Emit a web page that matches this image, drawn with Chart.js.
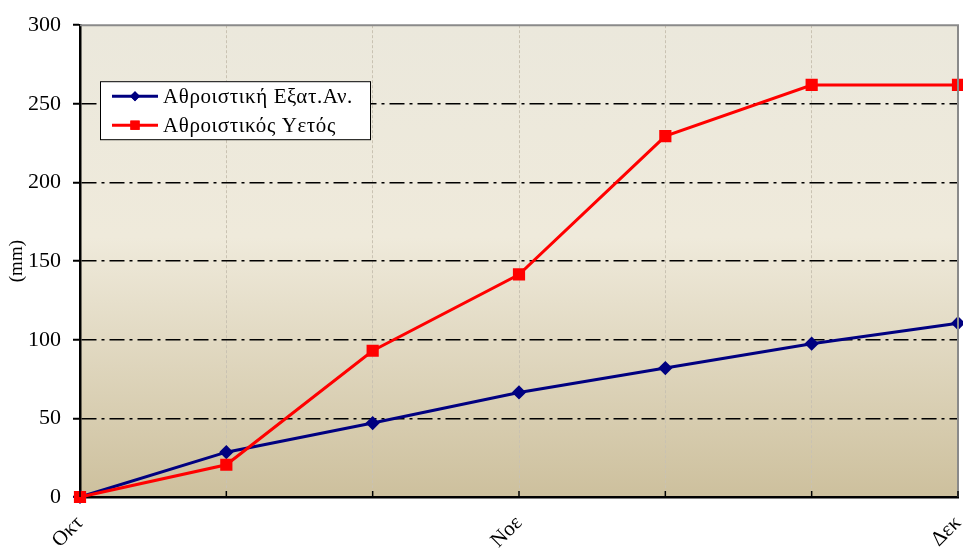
<!DOCTYPE html>
<html lang="el">
  <head>
    <meta charset="UTF-8" />
    <script src="https://cdn.jsdelivr.net/npm/chart.js@4/dist/chart.umd.min.js"></script>
    <title>Αθροιστικά</title>
    <style>
      html, body { margin: 0; padding: 0; background: #fff; }
      #wrap { width: 963px; height: 555px; }
    </style>
  </head>
  <body>
    <div id="wrap"><canvas id="chart" width="963" height="555"></canvas></div>
    <script>
      const months = ["Οκτ", "", "", "Νοε", "", "", "Δεκ"];
      const evapCum = [0, 28.5, 47, 66.5, 82, 97.5, 110.5];
      const rainCum = [0, 20.5, 93, 141.5, 229.5, 262, 262];
      const yTicks = [0, 50, 100, 150, 200, 250, 300];

      const serif = "'Liberation Serif', 'DejaVu Serif', serif";

      // fill + top/right border of the plot
      const plotBg = {
        id: "plotBg",
        beforeDraw(chart) {
          const { ctx, chartArea: a } = chart;
          const g = ctx.createLinearGradient(0, a.top, 0, a.bottom);
          g.addColorStop(0, "#ebe8dc");
          g.addColorStop(0.45, "#efeadb");
          g.addColorStop(1, "#cdc09d");
          ctx.save();
          ctx.fillStyle = g;
          ctx.fillRect(a.left, a.top, a.right - a.left, a.bottom - a.top);
          ctx.restore();
        },
        afterDatasetsDraw(chart) {
          const { ctx, chartArea: a } = chart;
          ctx.save();
          ctx.strokeStyle = "#8a8a8a";
          ctx.lineWidth = 2;
          ctx.beginPath();
          ctx.moveTo(a.left, a.top);
          ctx.lineTo(a.right, a.top);
          ctx.lineTo(a.right, a.bottom);
          ctx.stroke();
          ctx.restore();
        },
      };

      // small tick marks on the x axis, pointing inside
      const innerTicks = {
        id: "innerTicks",
        afterDraw(chart) {
          const { ctx, chartArea: a } = chart;
          const x = chart.scales.x;
          ctx.save();
          ctx.strokeStyle = "#000";
          ctx.lineWidth = 1.5;
          months.forEach((m, i) => {
            const px = x.getPixelForValue(i);
            ctx.beginPath();
            ctx.moveTo(px, a.bottom);
            ctx.lineTo(px, a.bottom - 6);
            ctx.stroke();
          });
          ctx.restore();
        },
      };

      // legend box with line + marker
      const boxLegend = {
        id: "boxLegend",
        afterDraw(chart) {
          const { ctx, chartArea: a } = chart;
          const bx = a.left + 20, by = a.top + 56, bw = 270, bh = 58;
          ctx.save();
          ctx.fillStyle = "#fff";
          ctx.fillRect(bx, by, bw, bh);
          ctx.strokeStyle = "#000";
          ctx.lineWidth = 1;
          ctx.strokeRect(bx + 0.5, by + 0.5, bw, bh);
          chart.data.datasets.forEach((ds, i) => {
            const y = by + 15 + i * 29;
            ctx.strokeStyle = ds.borderColor;
            ctx.lineWidth = 3;
            ctx.beginPath();
            ctx.moveTo(bx + 12, y);
            ctx.lineTo(bx + 58, y);
            ctx.stroke();
            ctx.fillStyle = ds.borderColor;
            Chart.helpers.drawPoint(ctx, {
              pointStyle: ds.pointStyle,
              radius: ds.pointRadius,
              rotation: 0,
              borderWidth: 0,
            }, bx + 35, y);
            ctx.fill();
            ctx.fillStyle = "#000";
            ctx.font = "21px " + serif;
            ctx.letterSpacing = "0.6px";
            ctx.textBaseline = "middle";
            ctx.fillText(ds.label, bx + 63, y + 1);
          });
          ctx.restore();
        },
      };

      new Chart(document.getElementById("chart"), {
        type: "line",
        data: {
          labels: months,
          datasets: [
            {
              label: "Αθροιστική Εξατ.Αν.",
              data: evapCum,
              borderColor: "#000080",
              backgroundColor: "#000080",
              borderWidth: 3,
              pointStyle: "rectRot",
              pointRadius: 5,
              pointHoverRadius: 5,
              tension: 0,
              clip: false,
              order: 2,
            },
            {
              label: "Αθροιστικός Υετός",
              data: rainCum,
              borderColor: "#ff0000",
              backgroundColor: "#ff0000",
              borderWidth: 3,
              pointStyle: "rect",
              pointRadius: 6.5,
              pointHoverRadius: 6.5,
              tension: 0,
              clip: false,
              order: 1,
            },
          ],
        },
        options: {
          responsive: false,
          animation: false,
          layout: { autoPadding: false, padding: { top: 25, right: 5, left: 0, bottom: 0 } },
          plugins: { legend: { display: false }, tooltip: { enabled: false } },
          scales: {
            x: {
              offset: false,
              grid: {
                color: "#c9c2b2",
                lineWidth: 1,
                drawTicks: false,
              },
              border: { display: true, color: "#000", width: 2.5, dash: [3, 2] },
              ticks: {
                autoSkip: false,
                maxRotation: 45,
                minRotation: 45,
                padding: 14,
                color: "#000",
                font: { family: serif, size: 21 },
              },
              afterFit(s) {
                s.height = 58;
                s.paddingLeft = 0;
                s.paddingRight = 0;
              },
            },
            y: {
              min: 0,
              max: 300,
              afterBuildTicks(s) { s.ticks = yTicks.map((v) => ({ value: v })); },
              grid: {
                color: (c) => (c.tick && (c.tick.value === 0 || c.tick.value === 300) ? "rgba(0,0,0,0)" : "#000"),
                lineWidth: 1.5,
                tickLength: 7,
                tickColor: "#000",
                tickWidth: 2,
                tickBorderDash: [],
              },
              border: { display: true, color: "#000", width: 2.5, dash: [15, 5, 3, 5] },
              ticks: {
                padding: 12,
                color: "#000",
                font: { family: serif, size: 22 },
              },
              title: {
                display: true,
                text: "(mm)",
                color: "#000",
                font: { family: serif, size: 19 },
                padding: { top: 6, bottom: 0 },
              },
              afterFit(s) { s.width = 80; },
            },
          },
        },
        plugins: [plotBg, innerTicks, boxLegend],
      });
    </script>
  </body>
</html>
